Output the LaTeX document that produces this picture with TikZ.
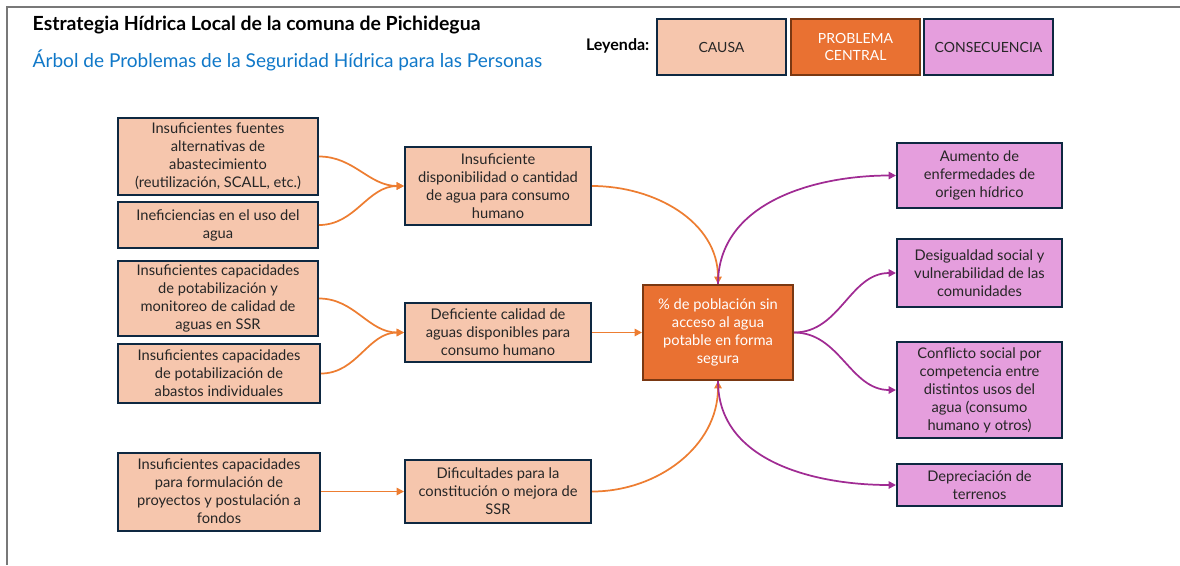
\documentclass[tikz,border=0pt]{standalone}
\usepackage{fontspec}
\setmainfont{Lato}
\usepackage{tikz}
\usetikzlibrary{positioning,arrows.meta}
\usepackage{xcolor}
\definecolor{causafill}{RGB}{246,198,173}
\definecolor{efectofill}{RGB}{229,158,221}
\definecolor{centralfill}{RGB}{233,113,50}
\definecolor{centralline}{RGB}{122,56,18}
\definecolor{boxline}{RGB}{14,40,65}
\definecolor{flechanar}{RGB}{237,125,49}
\definecolor{flechamor}{RGB}{160,43,147}
\definecolor{subazul}{RGB}{16,120,200}
\definecolor{marco}{RGB}{120,120,120}

\tikzset{
  caja/.style={draw=boxline,line width=1.5pt,align=center,inner sep=1pt,
    text=black!85,font=\fontsize{11}{13.5}\selectfont},
  causa/.style={caja,fill=causafill},
  efecto/.style={caja,fill=efectofill},
  central/.style={caja,draw=centralline,fill=centralfill,text=white},
  leyenda/.style={caja,font=\fontsize{10.5}{13}\selectfont,minimum width=96.75pt,minimum height=42pt},
  flecha/.style={draw=flechanar,line width=1.3pt,-{Triangle[length=5.5pt,width=5.5pt]}},
  efflecha/.style={flecha,draw=flechamor}
}

\begin{document}
\begin{tikzpicture}[x=0.75pt,y=0.75pt]
    \useasboundingbox (0,0) rectangle (1180,-565);
    \draw[marco,line width=1.5pt] (6.5,-565) -- (6.5,-6.5) -- (1180,-6.5);

    % titles and legend
    \node[anchor=west,font=\fontsize{14.6}{16}\selectfont\bfseries] (titulo) at (28,-25)
      {Estrategia Hídrica Local de la comuna de Pichidegua};
    \node[anchor=west,text=subazul,font=\fontsize{14.3}{16}\selectfont] (subtitulo) at (28,-60)
      {Árbol de Problemas de la Seguridad Hídrica para las Personas};
    \node[anchor=east,font=\fontsize{12}{14}\selectfont\bfseries] (leyendalbl) at (654,-46) {Leyenda:};
    \node[leyenda,fill=causafill] (lcausa) at (721.5,-47) {CAUSA};
    \node[leyenda,draw=centralline,fill=centralfill,text=white] (lcentral) at (855.5,-47) {PROBLEMA\\CENTRAL};
    \node[leyenda,fill=efectofill] (lefecto) at (988.5,-47) {CONSECUENCIA};

    % causes
    \node[causa,minimum width=150pt,minimum height=57.75pt] (fuentes) at (218,-156.5)
      {Insuficientes fuentes\\alternativas de\\abastecimiento\\(reutilización, SCALL, etc.)};
    \node[causa,minimum width=150pt,minimum height=34.5pt] (uso) at (218,-225)
      {Ineficiencias en el uso del\\agua};
    \node[causa,minimum width=150pt,minimum height=56.25pt] (monitoreo) at (218,-298.5)
      {Insuficientes capacidades\\de potabilización y\\monitoreo de calidad de\\aguas en SSR};
    \node[causa,minimum width=151.5pt,minimum height=44.25pt] (abastos) at (219,-373.5)
      {Insuficientes capacidades\\de potabilización de\\abastos individuales};
    \node[causa,minimum width=151.5pt,minimum height=58.5pt] (proyectos) at (219,-491.5)
      {Insuficientes capacidades\\para formulación de\\proyectos y postulación a\\fondos};

    \node[causa,minimum width=139.5pt,minimum height=58.5pt] (cantidad) at (498,-186)
      {Insuficiente\\disponibilidad o cantidad\\de agua para consumo\\humano};
    \node[causa,minimum width=139.5pt,minimum height=44.25pt] (calidad) at (498,-332.5)
      {Deficiente calidad de\\aguas disponibles para\\consumo humano};
    \node[causa,minimum width=139.5pt,minimum height=47.25pt] (ssr) at (498,-491.5)
      {Dificultades para la\\constitución o mejora de\\SSR};

    % central problem
    \node[central,minimum width=112.5pt,minimum height=71.25pt] (problema) at (718,-332.5)
      {\% de población sin\\acceso al agua\\potable en forma\\segura};

    % consequences
    \node[efecto,minimum width=123.75pt,minimum height=48.75pt] (enfermedades) at (979.5,-175.5)
      {Aumento de\\enfermedades de\\origen hídrico};
    \node[efecto,minimum width=123.75pt,minimum height=51pt] (desigualdad) at (979.5,-273)
      {Desigualdad social y\\vulnerabilidad de las\\comunidades};
    \node[efecto,minimum width=123.75pt,minimum height=72pt] (conflicto) at (979.5,-390)
      {Conflicto social por\\competencia entre\\distintos usos del\\agua (consumo\\humano y otros)};
    \node[efecto,minimum width=123.75pt,minimum height=31.5pt] (terrenos) at (979.5,-485)
      {Depreciación de\\terrenos};

    \draw[flecha] (fuentes.east) to[out=0,in=180] (cantidad.west);
    \draw[flecha] (uso.east) to[out=0,in=180] (cantidad.west);
    \draw[flecha] (monitoreo.east) to[out=0,in=180] (calidad.west);
    \draw[flecha] (abastos.east) to[out=0,in=180] (calidad.west);
    \draw[flecha] (proyectos.east) -- (ssr.west);
    \draw[flecha] (cantidad.east) to[out=0,in=90] (problema.north);
    \draw[flecha] (calidad.east) -- (problema.west);
    \draw[flecha] (ssr.east) to[out=0,in=-90] (problema.south);

    \draw[efflecha] (problema.north) to[out=90,in=180] (enfermedades.west);
    \draw[efflecha] (problema.east) to[out=0,in=180] (desigualdad.west);
    \draw[efflecha] (problema.east) to[out=0,in=180] (conflicto.west);
    \draw[efflecha] (problema.south) to[out=-90,in=180] (terrenos.west);
  \end{tikzpicture}
\end{document}
